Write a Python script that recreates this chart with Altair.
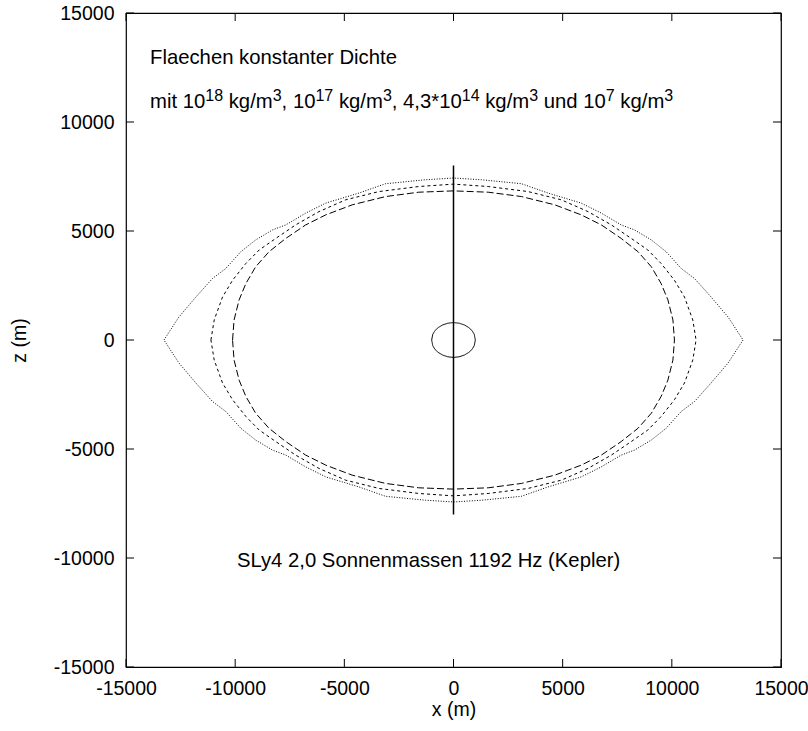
import altair as alt
import pandas as pd

# Quarter outlines (upper-left quadrant, from equator to pole) of the
# constant-density surfaces; the star is symmetric about both axes.
dot_x = [-13260, -12580, -11800, -11040, -10430, -9740, -9060, -8290, -7680, -6770, -5850, -4330, -3110, -1280, 0]
dot_z = [0, 1050, 1970, 2820, 3280, 4050, 4590, 5050, 5280, 5820, 6280, 6740, 7170, 7350, 7430]

short_x = [-11110, -10960, -10580, -10120, -9510, -8900, -8140, -7230, -6160, -4940, -3410, -1590, 0]
short_z = [0, 920, 1970, 2740, 3510, 4130, 4660, 5280, 5890, 6430, 6810, 7040, 7150]

long_x = [-10120, -10050, -9820, -9510, -9060, -8450, -7680, -6770, -5850, -4640, -3110, -1590, 0]
long_z = [0, 920, 1840, 2590, 3360, 4050, 4660, 5280, 5740, 6200, 6580, 6780, 6840]

core_x = [-1000, -950, -850, -700, -500, -260, 0]
core_z = [0, 260, 430, 570, 690, 770, 800]

# rotation axis
axis_x = [0, 0]
axis_z = [-8000, 8000]

tick_values = [-15000, -10000, -5000, 0, 5000, 10000, 15000]

# annotation text: (segment, is_superscript)
title_line = "Flaechen konstanter Dichte"
density_line = [
    ("mit 10", False), ("18", True), (" kg/m", False), ("3", True),
    (", 10", False), ("17", True), (" kg/m", False), ("3", True),
    (", 4,3*10", False), ("14", True), (" kg/m", False), ("3", True),
    (" und 10", False), ("7", True), (" kg/m", False), ("3", True),
]
model_line = "SLy4 2,0 Sonnenmassen 1192 Hz (Kepler)"

W, H = 655, 654
DOMAIN = [-15000, 15000]
FONT = "Liberation Sans"
FS = 20.3        # text size
SUP = 16         # superscript size
TICK_FS = 19.5
PX_X = (DOMAIN[1] - DOMAIN[0]) / W   # data units per pixel
PX_Z = (DOMAIN[1] - DOMAIN[0]) / H

# Helvetica/Arial advance widths (1/1000 em)
ADV = {" ": 278, ",": 278, "*": 389, "/": 278, "m": 833, "i": 222, "t": 278,
       "k": 500, "g": 556, "u": 556, "n": 556, "d": 556}


def text_width(s, size):
    return sum(ADV.get(c, 556) for c in s) / 1000 * size


def closed_curve(qx, qz):
    """Mirror an upper-left quarter into a full closed outline."""
    pts = list(zip(qx, qz))                                  # upper left
    pts += [(-x, z) for x, z in reversed(pts[:-1])]          # upper right
    upper = list(pts)
    pts += [(x, -z) for x, z in reversed(upper[:-1])]        # lower half
    return pd.DataFrame({"x": [p[0] for p in pts],
                         "z": [p[1] for p in pts],
                         "i": range(len(pts))})


xs = alt.Scale(domain=DOMAIN, nice=False, zero=False)
ys = alt.Scale(domain=DOMAIN, nice=False, zero=False)

x_axis = alt.Axis(values=tick_values, ticks=False, tickSize=0, domain=False, grid=False,
                  labelPadding=12, labelFont=FONT, labelFontSize=TICK_FS, labelColor="black",
                  labelExpr="'' + datum.value",
                  title="x (m)", titleFont=FONT, titleFontSize=TICK_FS, titleFontWeight="normal",
                  titleColor="black", titlePadding=3, labelFlush=False)
y_axis = alt.Axis(values=tick_values, ticks=False, tickSize=0, domain=False, grid=False,
                  labelPadding=12, labelFont=FONT, labelFontSize=TICK_FS, labelColor="black",
                  labelExpr="'' + datum.value",
                  title="z (m)", titleFont=FONT, titleFontSize=TICK_FS, titleFontWeight="normal",
                  titleColor="black", titlePadding=24, labelFlush=False)


def X(field):
    return alt.X(field, scale=xs, axis=x_axis)


def Y(field):
    return alt.Y(field, scale=ys, axis=y_axis)


def contour(qx, qz, dash, width=1.0):
    return alt.Chart(closed_curve(qx, qz)).mark_line(
        color="black", strokeWidth=width, strokeDash=dash
    ).encode(x=X("x:Q"), y=Y("z:Q"), order="i:Q")


outer = contour(dot_x, dot_z, [1, 1.6], width=1.0)
middle = contour(short_x, short_z, [3, 3])
inner = contour(long_x, long_z, [7, 3])
core = contour(core_x, core_z, [1, 0])

rot_axis = alt.Chart(pd.DataFrame({"x": axis_x, "z": axis_z})).mark_line(
    color="black", strokeWidth=1.5
).encode(x=X("x:Q"), y=Y("z:Q"))

# inward tick marks on all four sides
ticks_df = pd.DataFrame({"v": tick_values})
tick_style = dict(color="black", strokeWidth=1)
tick_bottom = alt.Chart(ticks_df).mark_rule(**tick_style).encode(
    x=X("v:Q"), y=alt.value(H), y2=alt.value(H - 8))
tick_top = alt.Chart(ticks_df).mark_rule(**tick_style).encode(
    x=X("v:Q"), y=alt.value(0), y2=alt.value(8))
tick_left = alt.Chart(ticks_df).mark_rule(**tick_style).encode(
    y=Y("v:Q"), x=alt.value(0), x2=alt.value(8))
tick_right = alt.Chart(ticks_df).mark_rule(**tick_style).encode(
    y=Y("v:Q"), x=alt.value(W), x2=alt.value(W - 8))

# text placement (data coordinates); leading blanks become an x shift
left_x = -13900
rows_norm = [
    {"x": left_x, "z": 12640, "t": title_line},
    {"x": -9920, "z": -10400, "t": model_line},
]
rows_sup = []
cursor = 0.0
for seg, sup in density_line:
    size = SUP if sup else FS
    body = seg.lstrip(" ")
    lead = text_width(seg[: len(seg) - len(body)], size)
    row = {"x": left_x + (cursor + lead) * PX_X,
           "z": 10650 + (7 * PX_Z if sup else 0), "t": body}
    (rows_sup if sup else rows_norm).append(row)
    cursor += text_width(seg, size)

text_norm = alt.Chart(pd.DataFrame(rows_norm)).mark_text(
    align="left", baseline="alphabetic", font=FONT, fontSize=FS, color="black"
).encode(x=X("x:Q"), y=Y("z:Q"), text="t:N")
text_sup = alt.Chart(pd.DataFrame(rows_sup)).mark_text(
    align="left", baseline="alphabetic", font=FONT, fontSize=SUP, color="black"
).encode(x=X("x:Q"), y=Y("z:Q"), text="t:N")

chart = alt.layer(
    outer, middle, inner, core, rot_axis,
    tick_bottom, tick_top, tick_left, tick_right, text_norm, text_sup
).properties(
    width=W, height=H,
    autosize=alt.AutoSizeParams(type="none"),
    padding={"left": 126, "top": 13, "right": 808 - 126 - W, "bottom": 731 - 13 - H},
    background="white",
).configure_view(stroke="black", strokeWidth=1.2)

chart.save("out.html", embed_options={"renderer": "svg", "actions": False})
